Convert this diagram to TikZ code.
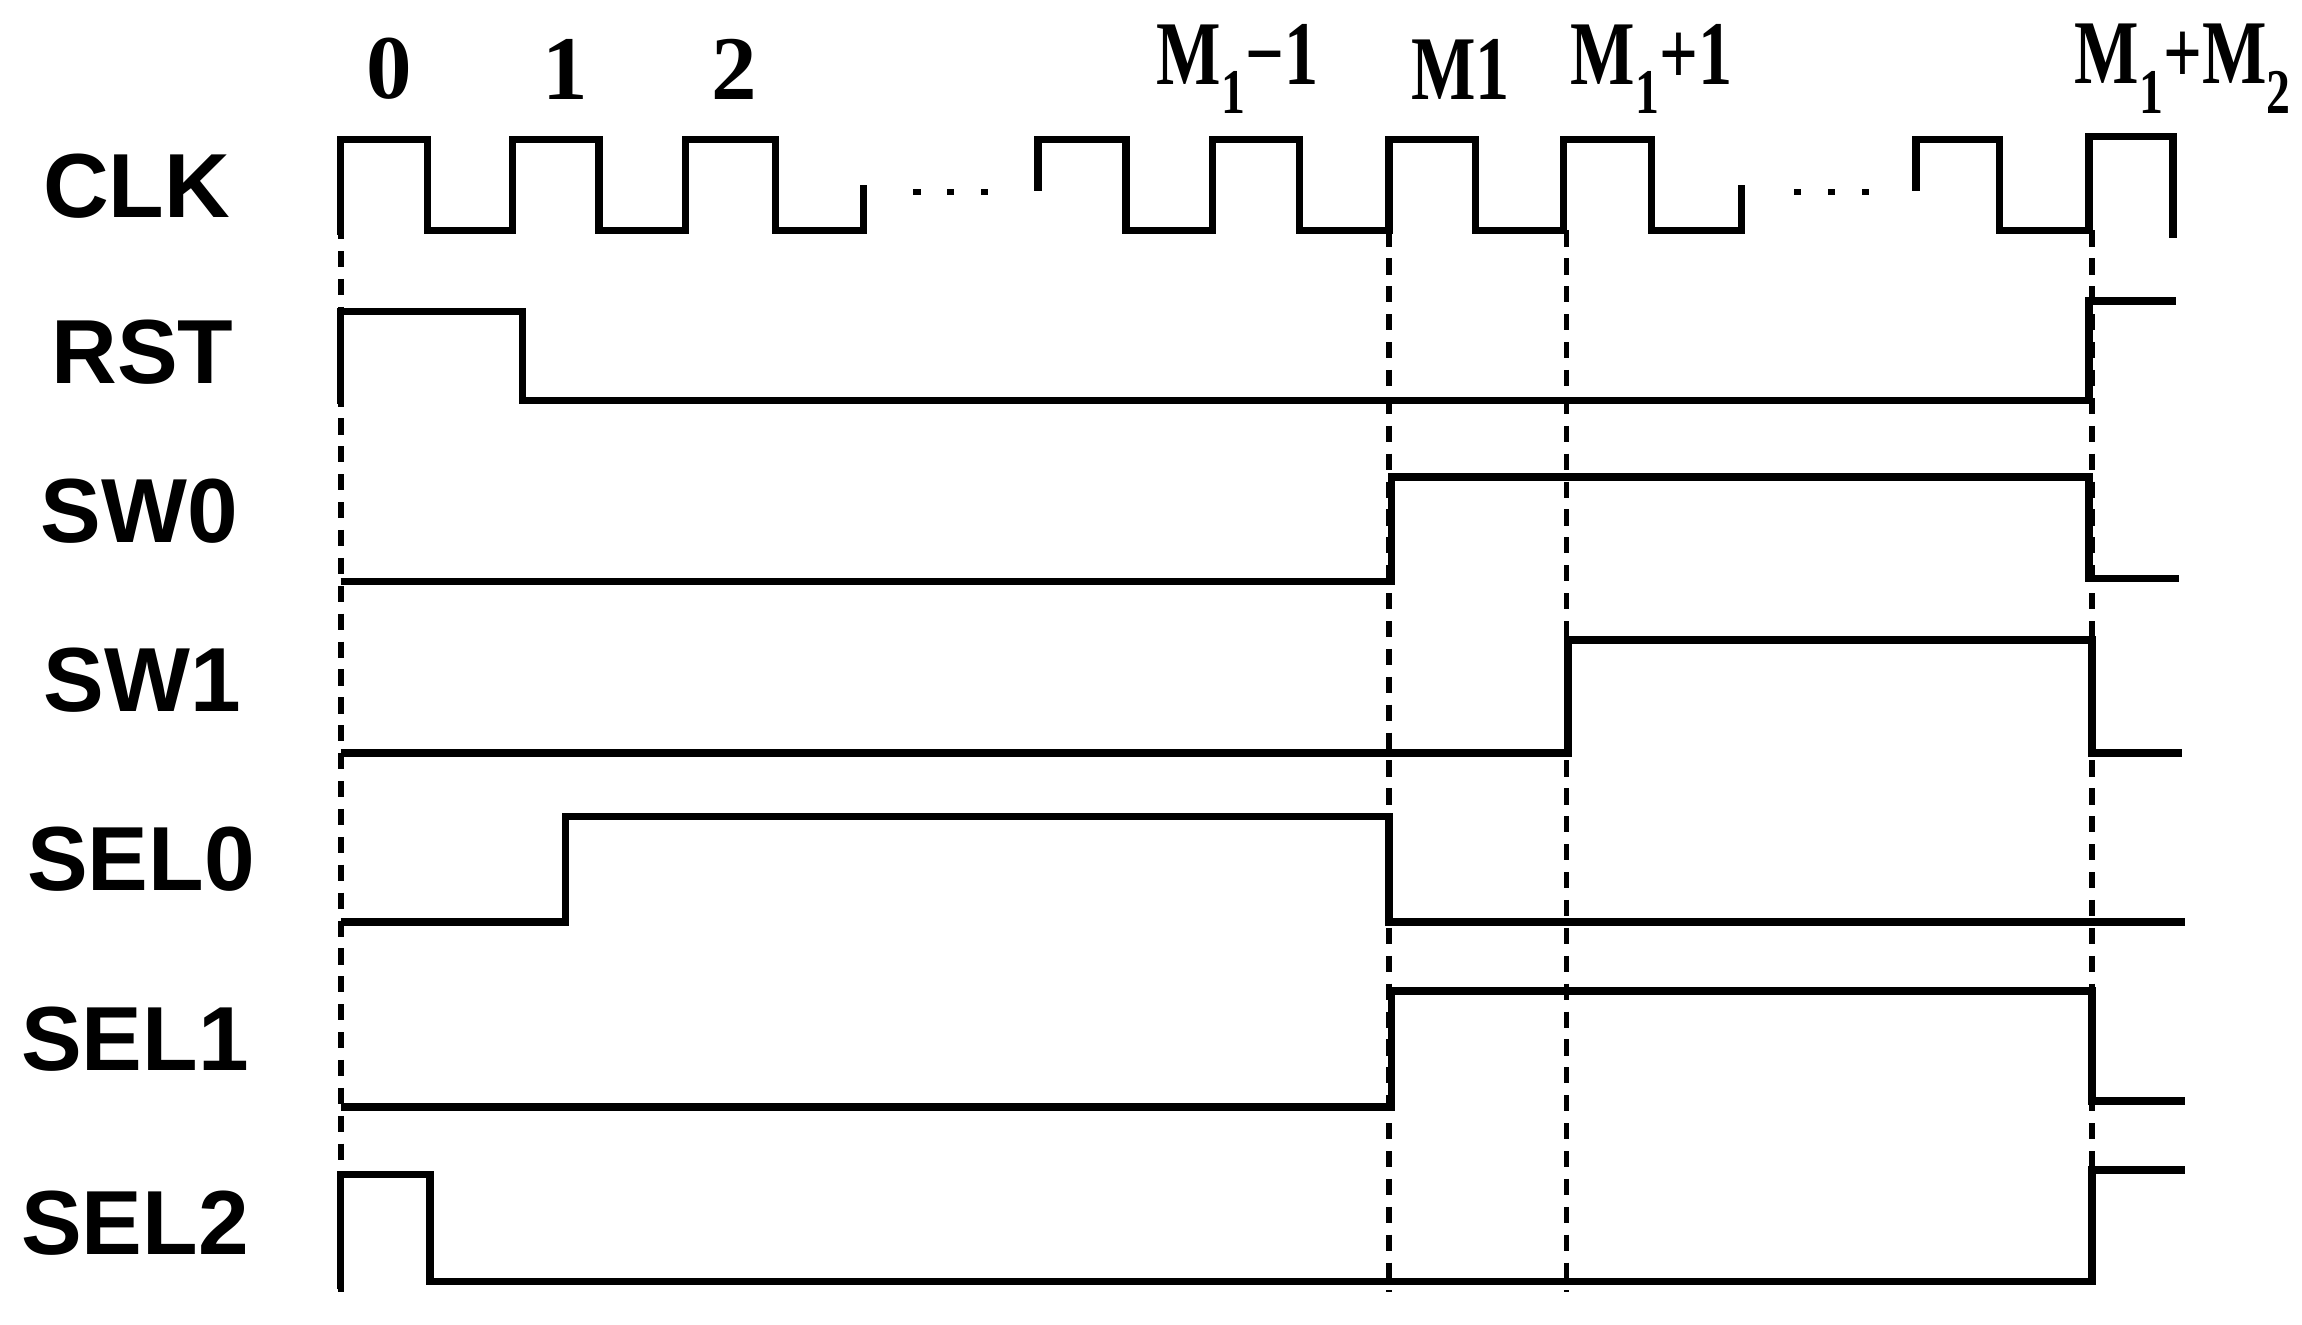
\documentclass[tikz,border=0pt]{standalone}
\usepackage{fontspec}
\setmainfont{Liberation Serif}
\setsansfont{Liberation Sans}
\begin{document}
\begin{tikzpicture}[x=1pt,y=-1pt,
  sig/.style={line width=5pt,line join=miter},
  guide/.style={line width=4pt,dash pattern=on 11pt off 8pt},
  nm/.style={font=\sffamily\bfseries\fontsize{62}{62}\selectfont,anchor=center},
  tk/.style={font=\bfseries\fontsize{62}{62}\selectfont,anchor=center,inner sep=0pt}]
\useasboundingbox (0,0) rectangle (1568,902);
% labels
\node[nm] (lclk) at (93,127) {CLK};
\node[nm] (lrst) at (97,240) {RST};
\node[nm] (lsw0) at (95,348) {SW0};
\node[nm] (lsw1) at (97,463) {SW1};
\node[nm] (lsel0) at (96,585) {SEL0};
\node[nm] (lsel1) at (92,708) {SEL1};
\node[nm] (lsel2) at (92,833) {SEL2};
\node[tk] (t0) at (265,47) {0};
\node[tk] (t1) at (385,47) {1};
\node[tk] (t2) at (500,47) {2};
\node[tk,xscale=0.75] (tm1) at (843,47) {M\textsubscript{1}−1};
\node[tk,xscale=0.75] (tm) at (995,47) {M1};
\node[tk,xscale=0.75] (tp1) at (1125,47) {M\textsubscript{1}+1};
\node[tk,xscale=0.75] (tpm) at (1487,47) {M\textsubscript{1}+M\textsubscript{2}};
% dashed guides
\draw[guide] (232,95) -- (232,880);
\draw[guide] (946,157) -- (946,880);
\draw[guide] (1067,157) -- (1067,880);
\draw[guide] (1425,157) -- (1425,800);
% CLK
\draw[sig] (232,160) -- (232,95) -- (291,95) -- (291,157) -- (349,157) -- (349,95) -- (408,95) -- (408,157) -- (467,157) -- (467,95) -- (528,95) -- (528,157) -- (588,157) -- (588,126);
\draw[sig] (707,130) -- (707,95) -- (767,95) -- (767,157) -- (826,157) -- (826,95) -- (885,95) -- (885,157) -- (946,157) -- (946,95) -- (1005,95) -- (1005,157) -- (1065,157) -- (1065,95) -- (1125,95) -- (1125,157) -- (1186,157) -- (1186,126);
\draw[sig] (1305,130) -- (1305,95) -- (1362,95) -- (1362,157) -- (1423,157) -- (1423,93) -- (1480,93) -- (1480,162);
\foreach \x in {622,645,668,1222,1245,1268} \fill (\x,129) rectangle ++(5,4);
% RST
\draw[sig] (232,275) -- (232,212) -- (356,212) -- (356,273) -- (1423,273) -- (1423,205) -- (1482,205);
% SW0
\draw[sig] (232,396) -- (948,396) -- (948,325) -- (1423,325) -- (1423,394) -- (1484,394);
% SW1
\draw[sig] (232,513) -- (1068,513) -- (1068,436) -- (1425,436) -- (1425,513) -- (1486,513);
% SEL0
\draw[sig] (232,628) -- (385,628) -- (385,556) -- (946,556) -- (946,628) -- (1488,628);
% SEL1
\draw[sig] (232,754) -- (948,754) -- (948,675) -- (1425,675) -- (1425,750) -- (1488,750);
% SEL2
\draw[sig] (232,878) -- (232,800) -- (293,800) -- (293,873) -- (1425,873) -- (1425,797) -- (1488,797);
\end{tikzpicture}
\end{document}
